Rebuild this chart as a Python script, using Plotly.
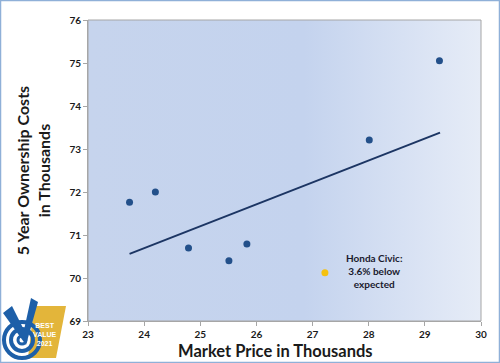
import plotly.graph_objects as go

price = [23.74, 24.20, 24.79, 25.51, 25.83, 28.01, 29.26]
cost = [71.76, 72.00, 70.70, 70.40, 70.79, 73.21, 75.05]
civic_price = [27.22]
civic_cost = [70.12]
trend_x = [23.74, 29.27]
trend_y = [70.56, 73.38]
x_ticks = [23, 24, 25, 26, 27, 28, 29, 30]
y_ticks = [69, 70, 71, 72, 73, 74, 75, 76]

W, H = 500, 363
L, R, T, B = 88, 19, 20, 42
pw, ph = W - L - R, H - T - B

def px(x):
    return (x - L) / pw

def py(y):
    return 1 - (y - T) / ph

fig = go.Figure()

# background gradient of plot area
fig.add_trace(go.Scatter(
    x=[23, 30, 30, 23, 23], y=[69, 69, 76, 76, 69],
    mode="lines", line=dict(width=0), fill="toself",
    fillgradient=dict(type="horizontal", colorscale=[[0, "#c6d4ed"], [0.55, "#c4d3ee"], [1, "#e6ecf7"]]),
    hoverinfo="skip", showlegend=False))

fig.add_trace(go.Scatter(x=trend_x, y=trend_y, mode="lines",
                         line=dict(color="#1c3563", width=2), showlegend=False))
fig.add_trace(go.Scatter(x=price, y=cost, mode="markers",
                         marker=dict(color="#23508a", size=7), showlegend=False))
fig.add_trace(go.Scatter(x=civic_price, y=civic_cost, mode="markers",
                         marker=dict(color="#f5c10e", size=7), showlegend=False))

fig.add_annotation(x=28.1, y=70.16, text="<b>Honda Civic:<br>3.6% below<br>expected</b>",
                   showarrow=False, font=dict(family="Lato", size=10, color="#1a1a2e"))

# x axis title
fig.add_annotation(xref="paper", yref="paper", x=px(275), y=py(351),
                   xanchor="center", yanchor="middle",
                   text="<b>Market Price in Thousands</b>", showarrow=False,
                   font=dict(family="Lato", size=16.5, color="#1a1a1a"))

shapes = []
# outer border
shapes.append(dict(type="rect", xref="paper", yref="paper",
                   x0=px(0.5), x1=px(W - 0.5), y0=py(H - 0.5), y1=py(0.5),
                   line=dict(color="#8fb0d8", width=1.5), layer="below"))
# plot area border
shapes.append(dict(type="rect", xref="paper", yref="paper", x0=0, x1=1, y0=0, y1=1,
                   line=dict(color="#a6a6a6", width=1)))
# logo approximation
shapes.append(dict(type="path", xref="paper", yref="paper",
                   path=f"M {px(34)},{py(306)} L {px(66)},{py(306)} L {px(56)},{py(358)} L {px(28)},{py(358)} Z",
                   fillcolor="#e3b53a", line=dict(width=0)))
for r, w in [(18, 4), (11, 4), (4, 3)]:
    shapes.append(dict(type="circle", xref="paper", yref="paper",
                       x0=px(22 - r), x1=px(22 + r), y0=py(340 + r), y1=py(340 - r),
                       line=dict(color="#1d5fa8", width=w)))
shapes.append(dict(type="path", xref="paper", yref="paper",
                   path=f"M {px(3)},{py(313)} L {px(12)},{py(306)} L {px(24)},{py(330)} L {px(31)},{py(298)} L {px(38)},{py(302)} L {px(26)},{py(345)} Z",
                   fillcolor="#1d5fa8", line=dict(width=0)))
fig.add_annotation(xref="paper", yref="paper", x=px(45), y=py(334),
                   xanchor="center", yanchor="middle",
                   text="<b>BEST<br>VALUE<br>2021</b>", showarrow=False,
                   font=dict(family="Liberation Sans", size=7, color="white"), align="center")

fig.update_layout(
    width=W, height=H,
    margin=dict(l=L, r=R, t=T, b=B),
    paper_bgcolor="white", plot_bgcolor="#c8d6ee",
    shapes=shapes,
    font=dict(family="Lato"),
    xaxis=dict(range=[23, 30], tickvals=x_ticks, showgrid=False, zeroline=False,
               showline=True, linecolor="#a6a6a6", ticks="outside", tickcolor="#a6a6a6", ticklen=4,
               ticklabelstandoff=0,
               tickfont=dict(family="Lato", size=10, color="#1a1a1a", weight="bold")),
    yaxis=dict(range=[69, 76], tickvals=y_ticks, showgrid=True, gridcolor="#a6a6a6", gridwidth=1,
               zeroline=False, showline=True, linecolor="#a6a6a6", ticks="outside",
               tickcolor="#a6a6a6", ticklen=4,
               tickfont=dict(family="Lato", size=10, color="#1a1a1a", weight="bold"),
               title=dict(text="<b>5 Year Ownership Costs<br>in Thousands</b>",
                          font=dict(family="Lato", size=16, color="#1a1a1a"), standoff=14)),
)

fig.write_html("out.html", config={"displayModeBar": False},
               post_script="document.body.style.margin='0';document.body.style.overflow='hidden';")
